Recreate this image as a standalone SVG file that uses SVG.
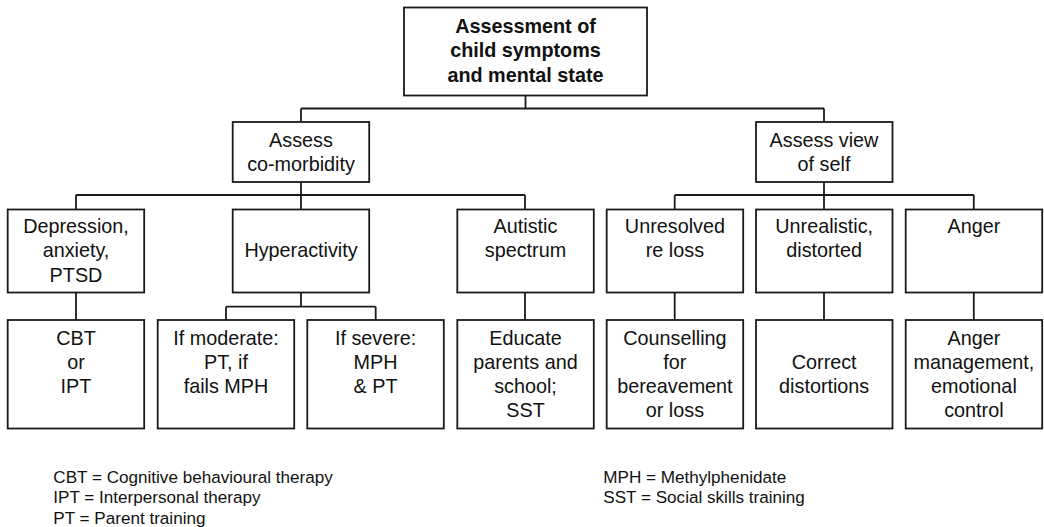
<svg xmlns="http://www.w3.org/2000/svg" width="1044" height="527" viewBox="0 0 1044 527">
  <style>
    .box { fill: #ffffff; stroke: #1a1a1a; stroke-width: 1.8; }
    .lbl { font-family: "Liberation Sans", Arial, sans-serif; font-size: 19.8px; fill: #111; text-anchor: middle; }
    .bold { font-weight: bold; }
    .leg { font-family: "Liberation Sans", Arial, sans-serif; font-size: 17.1px; fill: #111; }
    .conn { fill: none; stroke: #1a1a1a; stroke-width: 1.8; }
  </style>
  <rect width="1044" height="527" fill="#ffffff"/>

  <!-- connectors -->
  <g id="connectors" class="conn">
    <path d="M525.5 95.5 V108.5 M301 108.5 H824 M301 108.5 V122 M824 108.5 V122"/>
    <path d="M301 182 V195 M76 195 H525 M76 195 V209.5 M301 195 V209.5 M525 195 V209.5"/>
    <path d="M824 182 V195 M674.7 195 H973.8 M674.7 195 V209.5 M824 195 V209.5 M973.8 195 V209.5"/>
    <path d="M76 292.5 V320"/>
    <path d="M301 292.5 V306.7 M226 306.7 H375.7 M226 306.7 V320 M375.7 306.7 V320"/>
    <path d="M525 292.5 V320 M674.7 292.5 V320 M824 292.5 V320 M973.8 292.5 V320"/>
  </g>

  <!-- root -->
  <g id="root">
    <rect class="box" x="404" y="7.5" width="243" height="88"/>
    <text class="lbl bold" x="525.5" y="32.5">Assessment of</text>
    <text class="lbl bold" x="525.5" y="57">child symptoms</text>
    <text class="lbl bold" x="525.5" y="81.5">and mental state</text>
  </g>

  <!-- second level -->
  <g id="comorbidity">
    <rect class="box" x="232.7" y="122" width="136.5" height="60"/>
    <text class="lbl" x="301" y="146.7">Assess</text>
    <text class="lbl" x="301" y="171">co-morbidity</text>
  </g>
  <g id="view-of-self">
    <rect class="box" x="756" y="122" width="136.5" height="60"/>
    <text class="lbl" x="824" y="146.7">Assess view</text>
    <text class="lbl" x="824" y="171">of self</text>
  </g>

  <!-- third level -->
  <g id="depression">
    <rect class="box" x="7.7" y="209.5" width="136.5" height="83"/>
    <text class="lbl" x="76" y="233.3">Depression,</text>
    <text class="lbl" x="76" y="257.3">anxiety,</text>
    <text class="lbl" x="76" y="281.5">PTSD</text>
  </g>
  <g id="hyperactivity">
    <rect class="box" x="232.7" y="209.5" width="136.5" height="83"/>
    <text class="lbl" x="301" y="257.3">Hyperactivity</text>
  </g>
  <g id="autistic">
    <rect class="box" x="457.3" y="209.5" width="136.5" height="83"/>
    <text class="lbl" x="525.5" y="233.3">Autistic</text>
    <text class="lbl" x="525.5" y="257.3">spectrum</text>
  </g>
  <g id="unresolved">
    <rect class="box" x="606.7" y="209.5" width="136.5" height="83"/>
    <text class="lbl" x="674.9" y="233.3">Unresolved</text>
    <text class="lbl" x="674.9" y="257.3">re loss</text>
  </g>
  <g id="unrealistic">
    <rect class="box" x="756" y="209.5" width="136.5" height="83"/>
    <text class="lbl" x="824.2" y="233.3">Unrealistic,</text>
    <text class="lbl" x="824.2" y="257.3">distorted</text>
  </g>
  <g id="anger">
    <rect class="box" x="905.7" y="209.5" width="136.5" height="83"/>
    <text class="lbl" x="973.9" y="233.3">Anger</text>
  </g>

  <!-- fourth level -->
  <g id="cbt">
    <rect class="box" x="7.7" y="320" width="136.5" height="108.5"/>
    <text class="lbl" x="76" y="345">CBT</text>
    <text class="lbl" x="76" y="369">or</text>
    <text class="lbl" x="76" y="393">IPT</text>
  </g>
  <g id="moderate">
    <rect class="box" x="157.7" y="320" width="136.5" height="108.5"/>
    <text class="lbl" x="226" y="345">If moderate:</text>
    <text class="lbl" x="226" y="369">PT, if</text>
    <text class="lbl" x="226" y="393">fails MPH</text>
  </g>
  <g id="severe">
    <rect class="box" x="307.3" y="320" width="136.5" height="108.5"/>
    <text class="lbl" x="375.6" y="345">If severe:</text>
    <text class="lbl" x="375.6" y="369">MPH</text>
    <text class="lbl" x="375.6" y="393">&amp; PT</text>
  </g>
  <g id="educate">
    <rect class="box" x="457.3" y="320" width="136.5" height="108.5"/>
    <text class="lbl" x="525.5" y="345">Educate</text>
    <text class="lbl" x="525.5" y="369">parents and</text>
    <text class="lbl" x="525.5" y="393">school;</text>
    <text class="lbl" x="525.5" y="417">SST</text>
  </g>
  <g id="counselling">
    <rect class="box" x="606.7" y="320" width="136.5" height="108.5"/>
    <text class="lbl" x="674.9" y="345">Counselling</text>
    <text class="lbl" x="674.9" y="369">for</text>
    <text class="lbl" x="674.9" y="393">bereavement</text>
    <text class="lbl" x="674.9" y="417">or loss</text>
  </g>
  <g id="correct">
    <rect class="box" x="756" y="320" width="136.5" height="108.5"/>
    <text class="lbl" x="824.2" y="369">Correct</text>
    <text class="lbl" x="824.2" y="393">distortions</text>
  </g>
  <g id="anger-management">
    <rect class="box" x="905.7" y="320" width="136.5" height="108.5"/>
    <text class="lbl" x="973.9" y="345">Anger</text>
    <text class="lbl" x="973.9" y="369">management,</text>
    <text class="lbl" x="973.9" y="393">emotional</text>
    <text class="lbl" x="973.9" y="417">control</text>
  </g>

  <!-- abbreviations -->
  <g id="legend">
    <text class="leg" x="53.3" y="482.7">CBT = Cognitive behavioural therapy</text>
    <text class="leg" x="53.3" y="503.4">IPT = Interpersonal therapy</text>
    <text class="leg" x="53.3" y="524">PT = Parent training</text>
    <text class="leg" x="603.3" y="482.7">MPH = Methylphenidate</text>
    <text class="leg" x="603.3" y="503.4">SST = Social skills training</text>
  </g>
</svg>
